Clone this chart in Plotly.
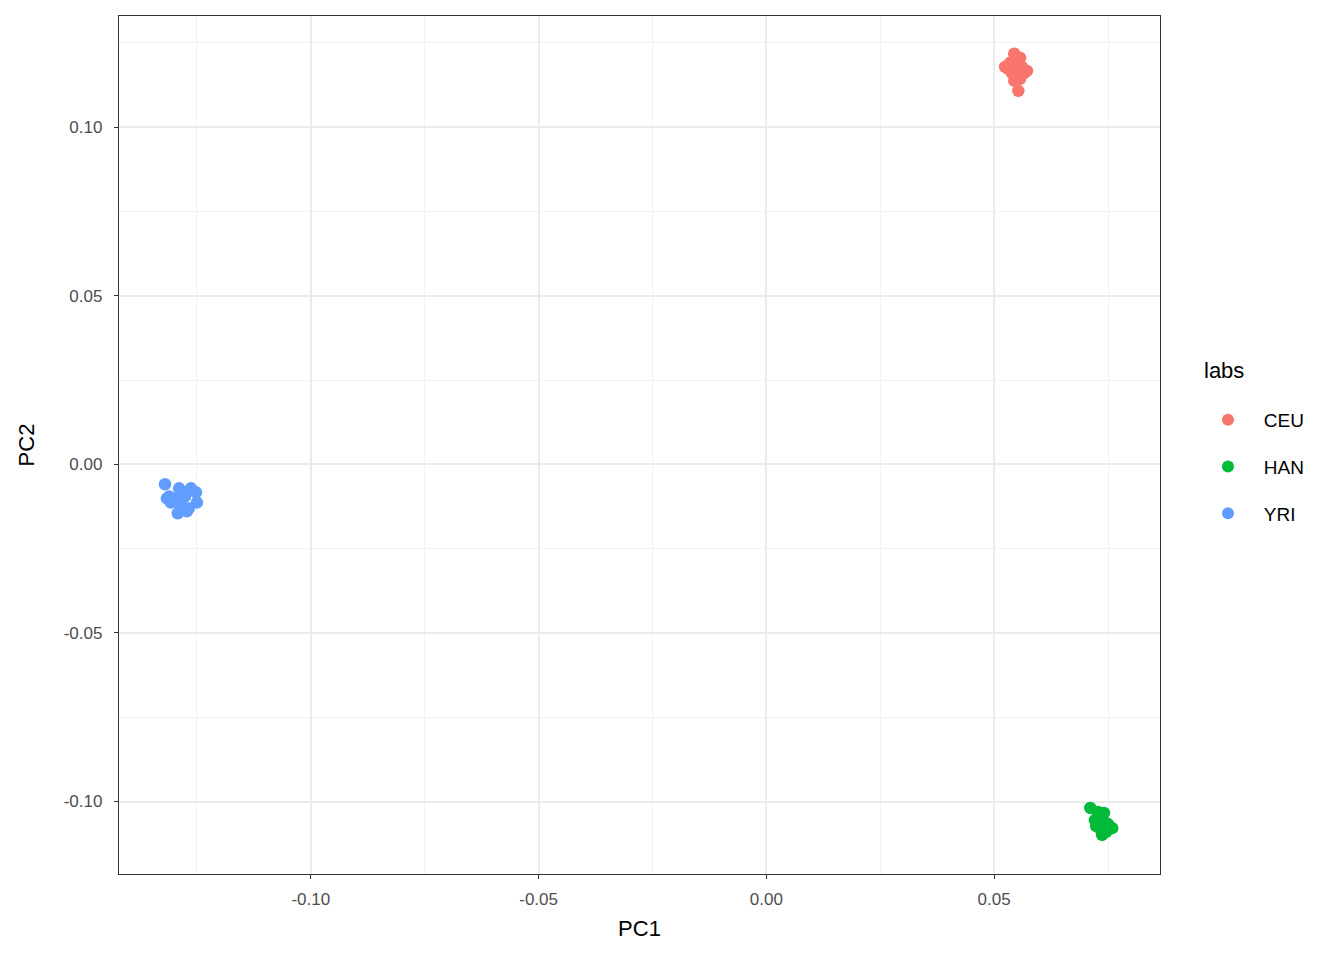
import plotly.graph_objects as go

# PCA scores
ceu_pc1 = [0.0544, 0.0557, 0.0524, 0.0535, 0.0548, 0.0561, 0.0572, 0.0539,
           0.0553, 0.0544, 0.0557, 0.0553, 0.0566, 0.0531]
ceu_pc2 = [0.1218, 0.1206, 0.1179, 0.1191, 0.1185, 0.1179, 0.1167, 0.1161,
           0.1153, 0.1138, 0.1144, 0.1108, 0.1161, 0.1173]

han_pc1 = [0.0711, 0.0728, 0.0741, 0.0721, 0.0737, 0.0750, 0.0759, 0.0732,
           0.0746, 0.0737, 0.0724]
han_pc2 = [-0.1019, -0.1031, -0.1034, -0.1055, -0.1061, -0.1067, -0.1079,
           -0.1079, -0.1090, -0.1099, -0.1073]

yri_pc1 = [-0.1320, -0.1289, -0.1263, -0.1311, -0.1294, -0.1276, -0.1252,
           -0.1250, -0.1307, -0.1285, -0.1268, -0.1292, -0.1272, -0.1316]
yri_pc2 = [-0.0059, -0.0071, -0.0071, -0.0095, -0.0101, -0.0095, -0.0083,
           -0.0113, -0.0113, -0.0124, -0.0130, -0.0145, -0.0139, -0.0101]

groups = ["CEU", "HAN", "YRI"]
colors = ["#F8766D", "#00BA38", "#619CFF"]

x_ticks = [-0.10, -0.05, 0.00, 0.05]
x_labels = ["-0.10", "-0.05", "0.00", "0.05"]
y_ticks = [-0.10, -0.05, 0.00, 0.05, 0.10]
y_labels = ["-0.10", "-0.05", "0.00", "0.05", "0.10"]

data = {
    "CEU": (ceu_pc1, ceu_pc2),
    "HAN": (han_pc1, han_pc2),
    "YRI": (yri_pc1, yri_pc2),
}

FONT = "Liberation Sans, Arial"
pad = "\u00a0" * 3

fig = go.Figure()
for name, col in zip(groups, colors):
    xs, ys = data[name]
    fig.add_trace(go.Scatter(
        x=xs, y=ys, mode="markers", name=pad + name, legendgroup=name,
        marker=dict(color=col, size=12.5, line=dict(width=0)),
    ))

axis_common = dict(
    showline=True, linecolor="#333333", linewidth=1.3, mirror=True,
    showgrid=True, gridcolor="#EBEBEB", gridwidth=2,
    zeroline=False, ticks="outside", ticklen=4, tickcolor="#333333",
    tickfont=dict(family=FONT, size=17, color="#4D4D4D"),
    title_font=dict(family=FONT, size=22, color="black"),
    minor=dict(dtick=0.025, showgrid=True, gridcolor="#F1F1F1", gridwidth=1),
)

fig.update_xaxes(
    **axis_common, range=[-0.1421, 0.0864], tickvals=x_ticks, ticktext=x_labels,
    tick0=0, ticklabelstandoff=5, title_text="PC1", title_standoff=13,
)
fig.update_yaxes(
    **axis_common, range=[-0.1215, 0.1330], tickvals=y_ticks, ticktext=y_labels,
    tick0=0, ticklabelstandoff=8, title_text="PC2", title_standoff=23,
)

fig.add_annotation(
    text="labs", xref="paper", yref="paper", x=1.040, y=0.587,
    xanchor="left", yanchor="middle", showarrow=False,
    font=dict(family=FONT, size=22, color="black"),
)

fig.update_layout(
    width=1336, height=952,
    plot_bgcolor="white", paper_bgcolor="white",
    margin=dict(l=111, r=184, t=8, b=86),
    font=dict(family=FONT, color="black"),
    showlegend=True,
    legend=dict(
        font=dict(size=19),
        xref="container", yref="container",
        x=0.8982, xanchor="left", y=0.5179, yanchor="middle",
        tracegroupgap=19, itemsizing="constant",
        bgcolor="rgba(0,0,0,0)",
    ),
)

fig.write_html("out.html")
